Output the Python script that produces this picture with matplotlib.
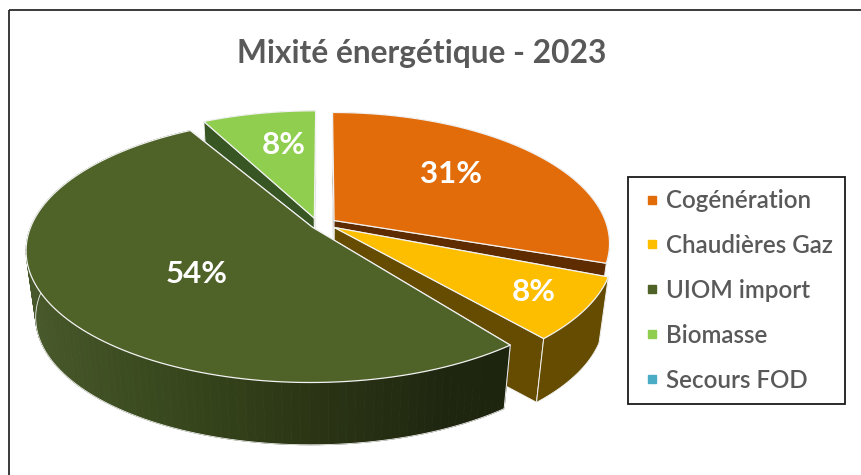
#!/usr/bin/env python3
"""3D exploded pie of the 2023 energy mix, with the perspective drawn by hand."""

import numpy as np
import matplotlib
matplotlib.use("Agg")
import matplotlib.pyplot as plt
from matplotlib.colors import to_rgb
from matplotlib.lines import Line2D
from matplotlib.patches import Polygon, Rectangle

plt.rcParams["font.family"] = ["Lato", "DejaVu Sans"]

TITLE = "Mixité énergétique - 2023"
CATEGORIES = ["Cogénération", "Chaudières Gaz", "UIOM import", "Biomasse", "Secours FOD"]
VALUES = [30.6, 8.1, 53.6, 7.7, 0.0]
TOP_COLORS = ["#E26B0A", "#FDBE00", "#4F6228", "#8FCE4F", "#4BACC6"]
SIDE_COLORS = ["#5F2C00", "#664C00", "#375623", "#375623", "#1F4E5F"]

# perspective model, in pixels of the output image
OX, OY = 323.5, 224.0
RX, RY = 278.0, 127.5
K = 0.17
DEPTH = 0.0325
VP = (323.0, 2300.0)
EXPLODE = 0.047
EDGE = "#F2F2F2"

# small per-slice corrections the excel perspective needs: x radius, start/end degrees
SLICE_SCALE = [0.98, 0.985, 1.01, 1.0, 1.0]
SLICE_TRIM = [(0, -1.5), (1, -0.5), (3, -2.5), (0, 0), (0, 0)]

# gradient along the rim of the big slice
RIM_X = [30, 150, 300, 450, 510]
RIM_RGB = [to_rgb(c) for c in ["#47582A", "#3A4A1F", "#2C3715", "#1F2610", "#1E250F"]]


def project(px, py):
    w = 1 + K * py
    return np.array([OX + RX * px / w, OY - RY * py / w])


def extrude(p):
    return p + DEPTH * (np.array(VP) - p)


def rim_color(x):
    return tuple(np.interp(x, RIM_X, [c[i] for c in RIM_RGB]) for i in range(3))


fig = plt.figure(figsize=(8.61, 4.75), dpi=100)
ax = fig.add_axes([0, 0, 1, 1])
ax.set_xlim(0, 861)
ax.set_ylim(475, 0)
ax.axis("off")

ax.add_patch(Rectangle((8.5, 10), 900, 500, fill=False, ec="#2b2b2b", lw=1.3))

# angles clockwise from north
shares = np.array(VALUES) / sum(VALUES) * 360
starts = np.concatenate([[0], np.cumsum(shares)[:-1]])

for order, i in enumerate([3, 0, 1, 2]):
    z = 10 + 10 * order
    front = i in (1, 2)
    a0 = np.radians(starts[i] + SLICE_TRIM[i][0])
    a1 = np.radians(starts[i] + shares[i] + SLICE_TRIM[i][1])
    mid = (a0 + a1) / 2
    dx, dy = EXPLODE * np.sin(mid), EXPLODE * np.cos(mid)
    if i == 3:
        dx -= 0.022
    r = SLICE_SCALE[i]
    angles = np.linspace(a0, a1, 120)
    arc = [project(r * np.sin(a) + dx, np.cos(a) + dy) for a in angles]
    low = [extrude(p) for p in arc]
    apex = project(dx, dy)
    side = to_rgb(SIDE_COLORS[i])

    # radial walls: behind the rim on the front slices, over it on the back ones
    wall_z = z - 1 if front else z + 2
    for end in (arc[0], arc[-1]):
        ax.add_patch(Polygon([apex, end, extrude(end), extrude(apex)],
                             fc=side, ec=EDGE, lw=0.7, joinstyle="round", zorder=wall_z))
    # rim; the big slice gets small quads so the gradient can run along it
    if i == 2:
        for p, q in zip(arc[:-1], arc[1:]):
            col = rim_color((p[0] + q[0]) / 2)
            ax.add_patch(Polygon([p, q, extrude(q), extrude(p)], fc=col, ec=col, lw=0.6, zorder=z))
    else:
        ax.add_patch(Polygon(arc + low[::-1], fc=side, ec="none", zorder=z))
    # only the two front slices show their lower rim
    if front:
        ax.plot(*np.array(low).T, color=EDGE, lw=0.6, zorder=z + 1)
        ax.plot(*np.array([arc[0], low[0]]).T, color=EDGE, lw=0.7, zorder=z + 1)
        ax.plot(*np.array([arc[-1], low[-1]]).T, color=EDGE, lw=0.7, zorder=z + 1)
    # top face
    ax.add_patch(Polygon([apex] + arc, fc=TOP_COLORS[i], ec=EDGE, lw=0.9, joinstyle="round", zorder=z + 3))

label_xy = [(451, 174), (534, 292), (197, 274), (284, 145)]
for val, (x, y) in zip(VALUES, label_xy):
    ax.text(x, y, f"{val:.0f}%", color="white", fontsize=22.5, fontweight="bold",
            ha="center", va="center", zorder=100)

ax.text(421.5, 53, TITLE, color="#595959", fontsize=22.9, fontweight="bold",
        ha="center", va="center")

handles = [Line2D([], [], ls="none", marker="s", ms=5.5, mfc=c, mec=c, label=n)
           for c, n in zip(TOP_COLORS, CATEGORIES)]
leg = ax.legend(handles=handles, loc="upper left", bbox_to_anchor=(628 / 861, 1 - 177 / 475),
                borderaxespad=0, frameon=True, fancybox=False, framealpha=1, edgecolor="#1a1a1a",
                labelspacing=0.905, handletextpad=0.06, handlelength=1.0, borderpad=0.5,
                prop={"size": 17.4, "weight": "semibold"})
leg.set_zorder(200)
leg.get_frame().set_linewidth(1.3)
for t in leg.get_texts():
    t.set_color("#595959")

fig.savefig("out.png", dpi=100)
plt.close(fig)
